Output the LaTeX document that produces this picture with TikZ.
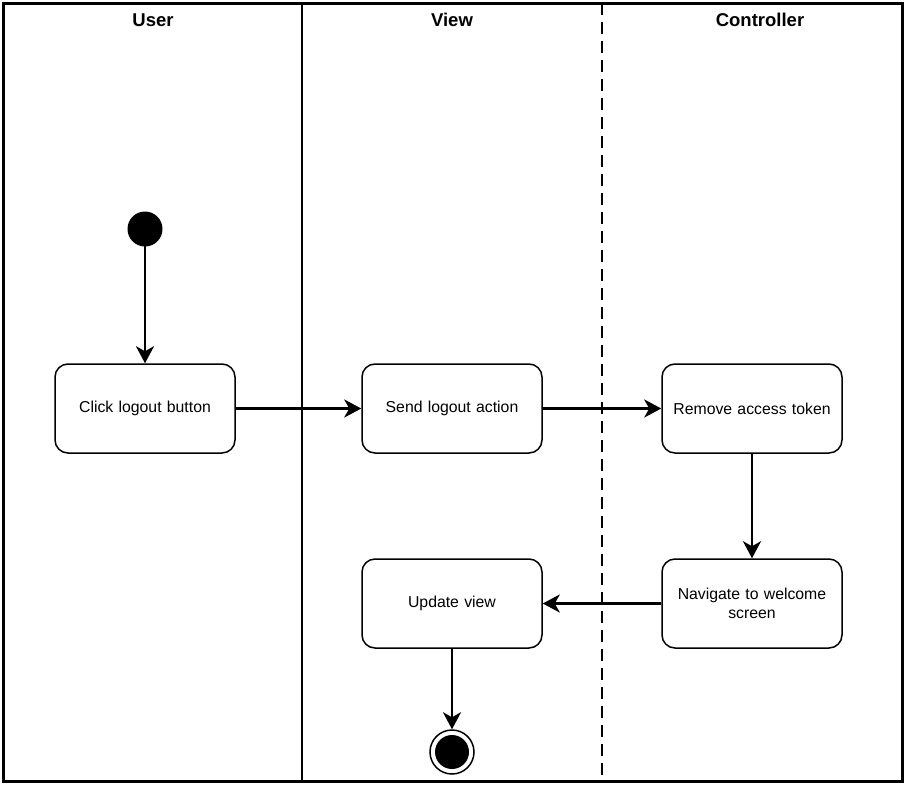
\documentclass[tikz,border=0pt]{standalone}
\usepackage{fontspec}
\setmainfont{Liberation Sans}
\usetikzlibrary{arrows.meta}
\begin{document}
\begin{tikzpicture}[x=1pt,y=-1pt,
  actbox/.style={draw, line width=1.5pt, rounded corners=13pt, minimum width=180pt, minimum height=89pt, align=center, font=\fontsize{15.8}{19}\selectfont, inner sep=2pt, text width=172pt},
  flow/.style={line width=2.8pt, -{Stealth[length=17pt,width=18pt,inset=5pt]}},
  lanehead/.style={font=\bfseries\fontsize{18.5}{22}\selectfont},
  lanepen/.style={line width=2.8pt}]
\useasboundingbox (0,0) rectangle (906,788);
% lanes
\draw[line width=3pt] (3,3) rectangle (902,781);
\draw[lanepen] (302,3) -- (302,781);
\draw[lanepen, dash pattern=on 12pt off 7pt] (602,3) -- (602,781);
\node[lanehead] (hu) at (153,20) {User};
\node[lanehead] (hv) at (452,20) {View};
\node[lanehead] (hc) at (760,20) {Controller};
% nodes
\node[circle, fill=black, minimum size=35pt, inner sep=0pt] (start) at (145,229) {};
\node[actbox] (click) at (145,408.5) {Click logout button};
\node[actbox] (send) at (452,408.5) {Send logout action};
\node[actbox] (remove) at (752,408.5) {Remove access token};
\node[actbox] (nav) at (752,603.5) {Navigate to welcome\\screen};
\node[actbox] (upd) at (452,603.5) {Update view};
\node[circle, draw, line width=1.5pt, fill=white, minimum size=44pt, inner sep=0pt] (endo) at (452,752) {};
\node[circle, fill=black, minimum size=34pt, inner sep=0pt] (endi) at (452,752) {};
% flows
\draw[flow] (start.south) ++(0,5pt) -- (click.north);
\draw[flow] (click.east) -- (send.west);
\draw[flow] (send.east) -- (remove.west);
\draw[flow] (remove.south) -- (nav.north);
\draw[flow] (nav.west) -- (upd.east);
\draw[flow] (upd.south) -- (endo.north);
\end{tikzpicture}
\end{document}
